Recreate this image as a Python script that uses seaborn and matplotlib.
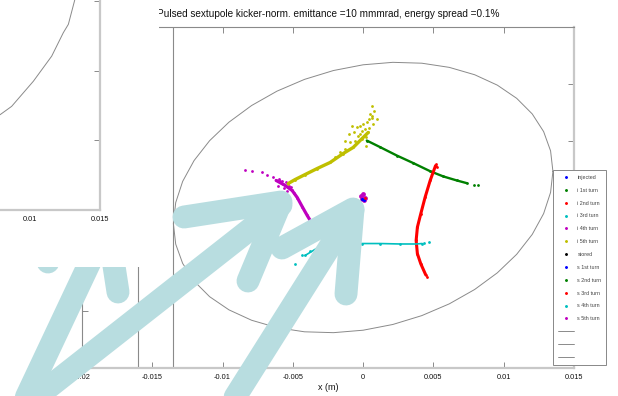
import numpy as np
import pandas as pd
import matplotlib
matplotlib.use("Agg")
import matplotlib.pyplot as plt
import seaborn as sns
from matplotlib.lines import Line2D

# ---------------- data ----------------
title = "Pulsed sextupole kicker-norm. emittance =10 mmmrad, energy spread =0.1%"
xlabel = "x (m)"
xticks = [-0.02, -0.015, -0.01, -0.005, 0, 0.005, 0.01, 0.015]
xtick_labels = ["-0.02", "-0.015", "-0.01", "-0.005", "0", "0.005", "0.01", "0.015"]
yticks = [-0.001, -0.0005, 0, 0.0005, 0.001]
septum_x = [-0.0135, -0.016]

# acceptance ellipse (half width in x, half height in x', phase offset)
ell_xmax = 0.0135
ell_ymax = 0.00119
ell_phase = 1.376

# dense cores of each injected turn
turn1_x = [0.00026, 0.00121, 0.00240, 0.00358, 0.00477, 0.00571, 0.00666, 0.00738]
turn1_y = [0.000501, 0.000443, 0.000369, 0.000302, 0.000231, 0.000185, 0.000150, 0.000126]
turn2_x = [0.00515, 0.00477, 0.00441, 0.00410, 0.00386, 0.00377, 0.00386, 0.00410, 0.00445]
turn2_y = [0.000280, 0.000150, 0.000003, -0.000143, -0.000261, -0.000378, -0.000495, -0.000583, -0.000680]
turn3_x = [-0.00413, -0.00320, -0.00199, -0.00092, -0.00007, 0.00121, 0.00263, 0.00377, 0.00420]
turn3_y = [-0.000510, -0.000440, -0.000413, -0.000409, -0.000405, -0.000405, -0.000409, -0.000409, -0.000405]
turn4_x = [-0.00619, -0.00555, -0.00505, -0.00469, -0.00434, -0.00398, -0.00363]
turn4_y = [0.000150, 0.000106, 0.0000616, 0.0, -0.0000792, -0.000158, -0.000229]
turn5_x = [-0.00533, -0.00484, -0.00413, -0.00327, -0.00235, -0.00142, -0.00071, -0.00007, 0.00036]
turn5_y = [0.000123, 0.000158, 0.000202, 0.000255, 0.000308, 0.000387, 0.000440, 0.000519, 0.000572]

# sparse particles around the cores
turn1_dots_x = [0.00790, 0.00820]
turn1_dots_y = [0.000108, 0.000106]
turn2_dots_x = [0.00520, 0.00522, 0.00453]
turn2_dots_y = [0.000296, 0.000266, -0.000701]
turn3_dots_x = [-0.00484, -0.00437, -0.00377, 0.00430, 0.00465]
turn3_dots_y = [-0.000581, -0.000510, -0.000475, -0.000396, -0.000390]
turn4_dots_x = [-0.00839, -0.00792, -0.00720, -0.00685, -0.00638, -0.00590, -0.00605, -0.00570,
                -0.00576, -0.00548, -0.00526, -0.00562, -0.00512, -0.00541, -0.00597, -0.00491]
turn4_dots_y = [0.000238, 0.000231, 0.000223, 0.000194, 0.000179, 0.000141, 0.0000968, 0.000120,
                0.000141, 0.000132, 0.0000968, 0.0000792, 0.0000880, 0.0000528, 0.000167, 0.0000352]
turn5_dots_x = [0.00062, 0.00078, 0.00097, 0.00050, -0.00080, -0.00045, 0.00002, -0.00128,
                -0.00021, 0.00021, 0.00071, 0.00064, 0.00040, -0.00100,
                -0.00128, -0.00092, -0.00057, -0.00036, -0.00007, 0.00014, -0.00021, 0.00028,
                0.00043, 0.00064, 0.00021, -0.00064, -0.00164, -0.00199]
turn5_dots_y = [0.000801, 0.000765, 0.000692, 0.000736, 0.000633, 0.000618, 0.000648, 0.000501,
                0.000563, 0.000457, 0.000651, 0.000700, 0.000610, 0.000560,
                0.000431, 0.000484, 0.000501, 0.000545, 0.000589, 0.000607, 0.000633, 0.000660,
                0.000695, 0.000721, 0.000528, 0.000572, 0.000396, 0.000352]

stored_x = [-0.00015, 0.0, 0.00015, 0.00008, -0.00008]
stored_y = [0.00001, 0.00003, 0.0, -0.00002, -0.00001]

legend_labels = ["injected", "i 1st turn", "i 2nd turn", "i 3rd turn", "i 4th turn", "i 5th turn",
                 "stored", "s 1st turn", "s 2nd turn", "s 3rd turn", "s 4th turn", "s 5th turn"]

# second (overlapping) window: part of another acceptance curve
win_curve_x = [0.00786, 0.00869, 0.01024, 0.01155, 0.01238, 0.01274, 0.01321, 0.01340]
win_curve_y = [-0.000817, -0.000757, -0.000577, -0.000397, -0.000229, -0.000169, 0.0000108, 0.00015]
win_xticks = [0.01, 0.015]
win_xtick_labels = ["0.01", "0.015"]
win_yticks = [-0.001, -0.0005, 0.0]

# ---------------- styling ----------------
W, H = 618, 396
sns.set_theme(style="white")
plt.rcParams["font.family"] = ["Liberation Sans", "DejaVu Sans"]

C = {"b": "#0000ff", "g": "#008000", "r": "#ff0000", "c": "#00bfbf",
     "m": "#bf00bf", "y": "#bfbf00", "k": "#000000"}
legend_colors = [C["b"], C["g"], C["r"], C["c"], C["m"], C["y"],
                 C["k"], C["b"], C["g"], C["r"], C["c"], C["m"]]
ARROW = "#b8dde0"

def fx(px):
    return px / W

def fy(py):
    return 1 - py / H

fig = plt.figure(figsize=(W / 100, H / 100), dpi=100)
fig.patch.set_facecolor("white")

ax = fig.add_axes([fx(82), fy(368), (574 - 82) / W, (368 - 27) / H])
ax.set_xlim(-0.02, 0.015)
ax.set_ylim(-0.0015, 0.0015)

# acceptance ellipse
t = np.linspace(0, 2 * np.pi, 41)
ax.plot(ell_xmax * np.cos(t), ell_ymax * np.cos(t - ell_phase), color="#8a8a8a", lw=0.7)

# septum lines
for sx in septum_x:
    ax.axvline(sx, color="#8a8a8a", lw=0.8)

streaks = [
    (turn1_x, turn1_y, turn1_dots_x, turn1_dots_y, C["g"], 1.7),
    (turn2_x, turn2_y, turn2_dots_x, turn2_dots_y, C["r"], 2.2),
    (turn3_x, turn3_y, turn3_dots_x, turn3_dots_y, C["c"], 1.2),
    (turn4_x, turn4_y, turn4_dots_x, turn4_dots_y, C["m"], 2.3),
    (turn5_x, turn5_y, turn5_dots_x, turn5_dots_y, C["y"], 2.4),
]
for xs, ys, dx, dy, col, lw in streaks:
    sns.lineplot(x=xs, y=ys, sort=False, estimator=None, color=col, lw=lw, ax=ax)
    sns.scatterplot(x=xs, y=ys, color=col, s=4, linewidth=0, ax=ax)
    sns.scatterplot(x=dx, y=dy, color=col, s=4, linewidth=0, ax=ax)

sns.scatterplot(x=stored_x, y=stored_y, color=C["m"], s=12, linewidth=0, ax=ax)
sns.scatterplot(x=stored_x[3:], y=stored_y[3:], color=C["b"], s=5, linewidth=0, ax=ax)
sns.scatterplot(x=stored_x[2:3], y=stored_y[2:3], color=C["r"], s=4, linewidth=0, ax=ax)

ax.set_xticks(xticks)
ax.set_xticklabels(xtick_labels)
ax.set_yticks(yticks)
ax.set_yticklabels([])
ax.tick_params(axis="both", direction="in", length=4, width=0.7, color="#8a8a8a",
               labelsize=5.3, labelcolor="#111111", pad=4,
               top=True, right=True, left=True, bottom=True)
for s in ["top", "left"]:
    ax.spines[s].set_color("#8a8a8a")
    ax.spines[s].set_linewidth(0.8)
for s in ["bottom", "right"]:
    ax.spines[s].set_color("#c8c8c8")
    ax.spines[s].set_linewidth(1.6)
ax.set_xlabel(xlabel, fontsize=6.5, color="#111111", labelpad=2)
ax.set_title(title, fontsize=7.2, color="#111111", pad=7)

handles = [Line2D([], [], ls="none", marker=".", markersize=2.2, color=c) for c in legend_colors]
handles += [Line2D([], [], color="#777777", lw=0.6) for _ in range(3)]
labels = legend_labels + ["", "", ""]
leg = ax.legend(handles, labels, loc="upper left", bbox_to_anchor=(fx(553), fy(170)),
                bbox_transform=fig.transFigure, fontsize=3.9, frameon=True, fancybox=False,
                edgecolor="#888888", framealpha=1, labelspacing=1.45, handlelength=3.05,
                handletextpad=0.55, borderpad=0.9, borderaxespad=0)
leg.get_frame().set_linewidth(0.7)
for txt in leg.get_texts():
    txt.set_color("#444444")

# ---------------- overlay arrows ----------------
strokes = [
    [(30, 402), (281, 205)],
    [(184, 217), (281, 202), (248, 281)],
    [(232, 402), (353, 210)],
    [(282, 248), (353, 209), (346, 294)],
    [(24, 402), (90, 262)],
    [(48, 262), (36, 215)],
    [(118, 292), (110, 240)],
]
for st in strokes:
    xs = [fx(p[0]) for p in st]
    ys = [fy(p[1]) for p in st]
    fig.add_artist(Line2D(xs, ys, color=ARROW, lw=16.5, solid_capstyle="round",
                          solid_joinstyle="round", zorder=5))

# ---------------- overlapping window ----------------
cover = fig.add_axes([0, fy(267), fx(159), 267 / H], zorder=10)
cover.set_facecolor("white")
cover.set_axis_off()
cover.add_patch(plt.Rectangle((0, 0), 1, 1, transform=cover.transAxes, color="white"))

win = fig.add_axes([fx(-250), fy(210), 350 / W, 240 / H], zorder=11)
win.set_xlim(-0.01, 0.015)
win.set_ylim(-0.0015, -0.0015 + 240 / 139.5 * 0.001)
win.plot(win_curve_x, win_curve_y, color="#8a8a8a", lw=0.7)
win.set_xticks(win_xticks)
win.set_xticklabels(win_xtick_labels)
win.set_yticks(win_yticks)
win.set_yticklabels([])
win.tick_params(axis="both", direction="in", length=4, width=0.7, color="#8a8a8a",
                labelsize=5.3, labelcolor="#111111", pad=4, right=True, left=False)
for s in ["top", "left"]:
    win.spines[s].set_visible(False)
for s in ["bottom", "right"]:
    win.spines[s].set_color("#c8c8c8")
    win.spines[s].set_linewidth(1.6)

fig.savefig("out.png", dpi=100)
